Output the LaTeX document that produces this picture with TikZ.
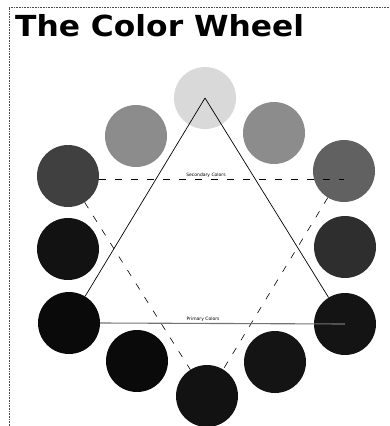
\documentclass[tikz,border=0pt]{standalone}
\usepackage{fontspec}
\setmainfont{DejaVu Sans}
\begin{document}
\begin{tikzpicture}[x=1pt,y=-1pt,
  wheel/.style={circle, minimum size=62pt, inner sep=0pt, draw=none},
  primline/.style={line width=0.7pt, black},
  secline/.style={line width=0.6pt, black, dash pattern=on 7pt off 9pt},
  lbl/.style={font=\fontsize{4.5}{5}\selectfont, inner sep=0.5pt, anchor=south}]
\useasboundingbox (0,0) rectangle (390,426);
% frame
\draw[black!70, line width=0.6pt, densely dotted] (9,426) -- (9,7) -- (390,7);
% title
\node[anchor=base west, inner sep=0pt, font=\bfseries\fontsize{29}{29}\selectfont] (title) at (15,36) {\scalebox{1.08}[1]{The Color Wheel}};
% circles
\node[wheel, fill=black!15] (top) at (205,98) {};
\node[wheel, fill=black!45] (ul) at (136,136) {};
\node[wheel, fill=black!45] (ur) at (274,133) {};
\node[wheel, fill=black!75] (l1) at (68,176) {};
\node[wheel, fill=black!62] (r1) at (344,171) {};
\node[wheel, fill=black!93] (l2) at (68,249) {};
\node[wheel, fill=black!82] (r2) at (345,247) {};
\node[wheel, fill=black!96] (l3) at (69,323) {};
\node[wheel, fill=black!92] (r3) at (345,324) {};
\node[wheel, fill=black!96] (bl) at (137,361) {};
\node[wheel, fill=black!92] (br) at (275,362) {};
\node[wheel, fill=black!93] (bot) at (207,396) {};
% secondary triangle
\coordinate (sR) at (344,179);
\draw[secline] (l1.east |- sR) -- (sR);
\draw[secline] (l1) -- (bot);
\draw[secline] (r1) -- (bot);
% primary triangle
\draw[primline] (top.center) -- (l3);
\draw[primline] (top.center) -- (r3);
\draw[black!55, line width=1.1pt] (l3.east) -- (r3.center);
% labels
\node[lbl] (seclbl) at (206,178) {Secondary Colors};
\node[lbl] (primlbl) at (203,322) {Primary Colors};
\end{tikzpicture}
\end{document}
